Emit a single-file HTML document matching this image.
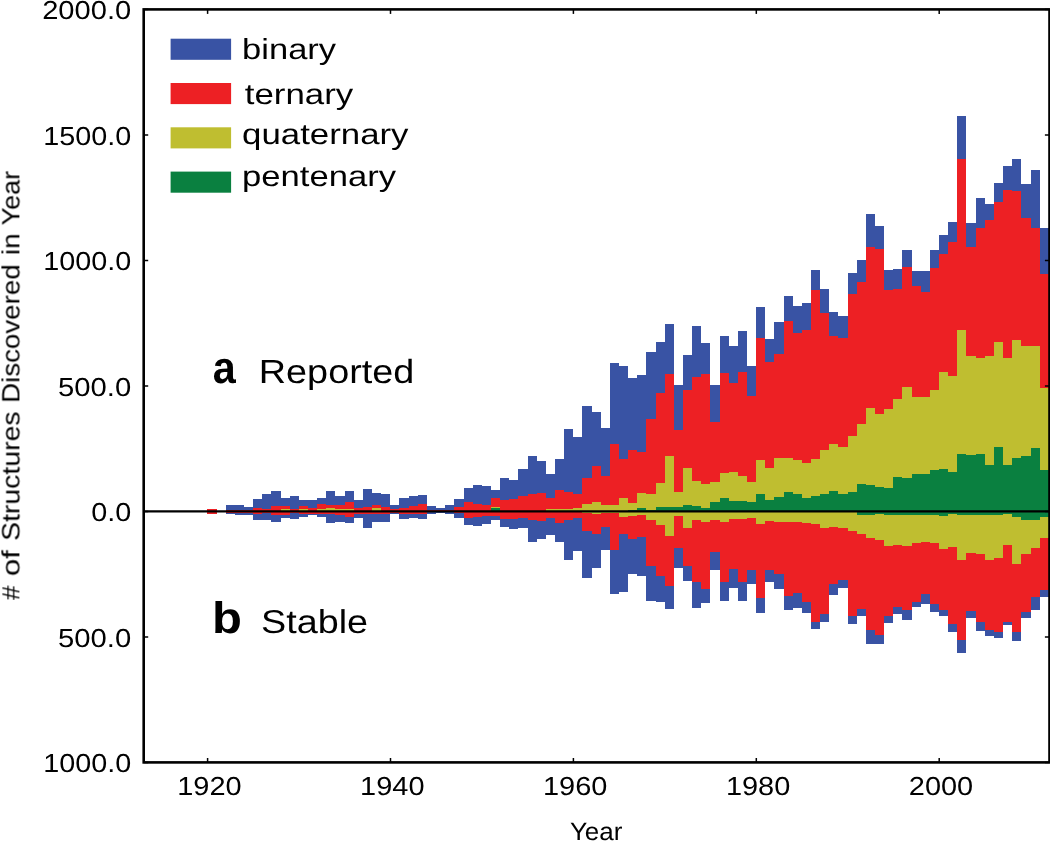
<!DOCTYPE html>
<html><head><meta charset="utf-8"><title>Structures discovered per year</title>
<style>
html,body{margin:0;padding:0;background:#fff;}
body{width:1050px;height:841px;overflow:hidden;}
svg{display:block;}
svg text{font-family:"Liberation Sans",sans-serif;fill:#000;text-rendering:geometricPrecision;}
.tx{opacity:0.999;}
</style></head><body>
<svg width="1050" height="841" viewBox="0 0 1050 841">
<rect x="0" y="0" width="1050" height="841" fill="#fff"/>
<g shape-rendering="crispEdges">
<path d="M207.4 509.3 L216.5 509.3 L216.5 511.4 L225.7 511.4 L225.7 505.4 L234.8 505.4 L234.8 505.4 L244.0 505.4 L244.0 506.8 L253.1 506.8 L253.1 498.8 L262.3 498.8 L262.3 493.9 L271.4 493.9 L271.4 491.1 L280.6 491.1 L280.6 497.7 L289.7 497.7 L289.7 496.0 L298.9 496.0 L298.9 500.0 L308.0 500.0 L308.0 500.2 L317.1 500.2 L317.1 498.4 L326.3 498.4 L326.3 491.4 L335.4 491.4 L335.4 496.0 L344.6 496.0 L344.6 491.4 L353.7 491.4 L353.7 500.0 L362.9 500.0 L362.9 489.4 L372.0 489.4 L372.0 492.8 L381.2 492.8 L381.2 493.7 L390.3 493.7 L390.3 505.4 L399.4 505.4 L399.4 498.2 L408.6 498.2 L408.6 496.0 L417.7 496.0 L417.7 495.0 L426.9 495.0 L426.9 506.4 L436.0 506.4 L436.0 508.0 L445.2 508.0 L445.2 505.0 L454.3 505.0 L454.3 499.4 L463.5 499.4 L463.5 488.0 L472.6 488.0 L472.6 484.6 L481.8 484.6 L481.8 486.0 L490.9 486.0 L490.9 490.0 L500.0 490.0 L500.0 478.4 L509.2 478.4 L509.2 480.0 L518.3 480.0 L518.3 469.4 L527.5 469.4 L527.5 456.0 L536.6 456.0 L536.6 461.0 L545.8 461.0 L545.8 474.4 L554.9 474.4 L554.9 459.2 L564.1 459.2 L564.1 428.8 L573.2 428.8 L573.2 437.0 L582.3 437.0 L582.3 405.8 L591.5 405.8 L591.5 412.2 L600.6 412.2 L600.6 428.4 L609.8 428.4 L609.8 363.0 L618.9 363.0 L618.9 365.6 L628.1 365.6 L628.1 377.6 L637.2 377.6 L637.2 375.0 L646.4 375.0 L646.4 352.0 L655.5 352.0 L655.5 342.4 L664.6 342.4 L664.6 323.6 L673.8 323.6 L673.8 385.0 L682.9 385.0 L682.9 355.0 L692.1 355.0 L692.1 326.0 L701.2 326.0 L701.2 343.0 L710.4 343.0 L710.4 385.0 L719.5 385.0 L719.5 336.0 L728.7 336.0 L728.7 345.8 L737.8 345.8 L737.8 330.8 L747.0 330.8 L747.0 366.0 L756.1 366.0 L756.1 307.4 L765.2 307.4 L765.2 339.0 L774.4 339.0 L774.4 322.0 L783.5 322.0 L783.5 296.4 L792.7 296.4 L792.7 306.4 L801.8 306.4 L801.8 303.4 L811.0 303.4 L811.0 270.0 L820.1 270.0 L820.1 289.0 L829.3 289.0 L829.3 312.4 L838.4 312.4 L838.4 316.4 L847.5 316.4 L847.5 272.8 L856.7 272.8 L856.7 260.2 L865.8 260.2 L865.8 214.0 L875.0 214.0 L875.0 226.0 L884.1 226.0 L884.1 270.2 L893.3 270.2 L893.3 269.2 L902.4 269.2 L902.4 250.0 L911.6 250.0 L911.6 270.6 L920.7 270.6 L920.7 270.6 L929.9 270.6 L929.9 250.0 L939.0 250.0 L939.0 235.2 L948.1 235.2 L948.1 222.0 L957.3 222.0 L957.3 116.4 L966.4 116.4 L966.4 223.4 L975.6 223.4 L975.6 198.0 L984.7 198.0 L984.7 204.0 L993.9 204.0 L993.9 183.0 L1003.0 183.0 L1003.0 165.6 L1012.2 165.6 L1012.2 158.6 L1021.3 158.6 L1021.3 184.4 L1030.5 184.4 L1030.5 169.6 L1039.6 169.6 L1039.6 227.8 L1048.7 227.8 L1048.7 597.0 L1039.6 597.0 L1039.6 610.0 L1030.5 610.0 L1030.5 617.6 L1021.3 617.6 L1021.3 641.0 L1012.2 641.0 L1012.2 625.0 L1003.0 625.0 L1003.0 638.4 L993.9 638.4 L993.9 636.0 L984.7 636.0 L984.7 631.4 L975.6 631.4 L975.6 618.0 L966.4 618.0 L966.4 653.0 L957.3 653.0 L957.3 631.6 L948.1 631.6 L948.1 616.2 L939.0 616.2 L939.0 612.0 L929.9 612.0 L929.9 604.0 L920.7 604.0 L920.7 607.0 L911.6 607.0 L911.6 619.6 L902.4 619.6 L902.4 614.2 L893.3 614.2 L893.3 623.0 L884.1 623.0 L884.1 644.4 L875.0 644.4 L875.0 644.4 L865.8 644.4 L865.8 616.2 L856.7 616.2 L856.7 624.0 L847.5 624.0 L847.5 587.6 L838.4 587.6 L838.4 595.0 L829.3 595.0 L829.3 622.0 L820.1 622.0 L820.1 629.0 L811.0 629.0 L811.0 613.0 L801.8 613.0 L801.8 608.0 L792.7 608.0 L792.7 610.4 L783.5 610.4 L783.5 589.0 L774.4 589.0 L774.4 581.6 L765.2 581.6 L765.2 613.0 L756.1 613.0 L756.1 583.6 L747.0 583.6 L747.0 600.6 L737.8 600.6 L737.8 588.4 L728.7 588.4 L728.7 601.4 L719.5 601.4 L719.5 570.0 L710.4 570.0 L710.4 603.0 L701.2 603.0 L701.2 607.6 L692.1 607.6 L692.1 581.4 L682.9 581.4 L682.9 568.0 L673.8 568.0 L673.8 608.6 L664.6 608.6 L664.6 602.0 L655.5 602.0 L655.5 601.0 L646.4 601.0 L646.4 576.4 L637.2 576.4 L637.2 574.4 L628.1 574.4 L628.1 592.0 L618.9 592.0 L618.9 594.4 L609.8 594.4 L609.8 550.0 L600.6 550.0 L600.6 568.0 L591.5 568.0 L591.5 578.4 L582.3 578.4 L582.3 551.0 L573.2 551.0 L573.2 560.0 L564.1 560.0 L564.1 542.0 L554.9 542.0 L554.9 534.7 L545.8 534.7 L545.8 539.4 L536.6 539.4 L536.6 542.0 L527.5 542.0 L527.5 528.0 L518.3 528.0 L518.3 529.0 L509.2 529.0 L509.2 527.0 L500.0 527.0 L500.0 519.8 L490.9 519.8 L490.9 524.4 L481.8 524.4 L481.8 526.0 L472.6 526.0 L472.6 525.0 L463.5 525.0 L463.5 518.0 L454.3 518.0 L454.3 514.0 L445.2 514.0 L445.2 513.0 L436.0 513.0 L436.0 514.0 L426.9 514.0 L426.9 519.4 L417.7 519.4 L417.7 518.4 L408.6 518.4 L408.6 518.6 L399.4 518.6 L399.4 514.3 L390.3 514.3 L390.3 522.4 L381.2 522.4 L381.2 522.4 L372.0 522.4 L372.0 528.0 L362.9 528.0 L362.9 517.6 L353.7 517.6 L353.7 522.8 L344.6 522.8 L344.6 522.4 L335.4 522.4 L335.4 523.2 L326.3 523.2 L326.3 516.5 L317.1 516.5 L317.1 514.8 L308.0 514.8 L308.0 516.5 L298.9 516.5 L298.9 518.8 L289.7 518.8 L289.7 518.3 L280.6 518.3 L280.6 522.0 L271.4 522.0 L271.4 519.7 L262.3 519.7 L262.3 519.7 L253.1 519.7 L253.1 515.4 L244.0 515.4 L244.0 514.6 L234.8 514.6 L234.8 514.3 L225.7 514.3 L225.7 511.4 L216.5 511.4 L216.5 513.7 L207.4 513.7Z" fill="#3953a4"/>
<path d="M207.4 509.3 L216.5 509.3 L216.5 511.4 L225.7 511.4 L225.7 509.6 L234.8 509.6 L234.8 510.0 L244.0 510.0 L244.0 510.1 L253.1 510.1 L253.1 507.7 L262.3 507.7 L262.3 509.1 L271.4 509.1 L271.4 506.0 L280.6 506.0 L280.6 506.0 L289.7 506.0 L289.7 508.5 L298.9 508.5 L298.9 506.0 L308.0 506.0 L308.0 508.0 L317.1 508.0 L317.1 504.0 L326.3 504.0 L326.3 504.5 L335.4 504.5 L335.4 504.5 L344.6 504.5 L344.6 501.6 L353.7 501.6 L353.7 508.0 L362.9 508.0 L362.9 506.5 L372.0 506.5 L372.0 504.5 L381.2 504.5 L381.2 507.2 L390.3 507.2 L390.3 509.4 L399.4 509.4 L399.4 508.0 L408.6 508.0 L408.6 506.4 L417.7 506.4 L417.7 504.4 L426.9 504.4 L426.9 509.9 L436.0 509.9 L436.0 510.4 L445.2 510.4 L445.2 509.9 L454.3 509.9 L454.3 507.0 L463.5 507.0 L463.5 502.4 L472.6 502.4 L472.6 504.0 L481.8 504.0 L481.8 505.0 L490.9 505.0 L490.9 498.4 L500.0 498.4 L500.0 500.0 L509.2 500.0 L509.2 499.0 L518.3 499.0 L518.3 496.0 L527.5 496.0 L527.5 494.0 L536.6 494.0 L536.6 493.4 L545.8 493.4 L545.8 498.4 L554.9 498.4 L554.9 490.4 L564.1 490.4 L564.1 492.0 L573.2 492.0 L573.2 494.0 L582.3 494.0 L582.3 478.4 L591.5 478.4 L591.5 466.0 L600.6 466.0 L600.6 475.6 L609.8 475.6 L609.8 443.6 L618.9 443.6 L618.9 459.0 L628.1 459.0 L628.1 450.0 L637.2 450.0 L637.2 451.6 L646.4 451.6 L646.4 418.6 L655.5 418.6 L655.5 393.0 L664.6 393.0 L664.6 374.0 L673.8 374.0 L673.8 429.6 L682.9 429.6 L682.9 389.6 L692.1 389.6 L692.1 377.0 L701.2 377.0 L701.2 374.4 L710.4 374.4 L710.4 422.0 L719.5 422.0 L719.5 373.0 L728.7 373.0 L728.7 383.0 L737.8 383.0 L737.8 372.0 L747.0 372.0 L747.0 396.0 L756.1 396.0 L756.1 337.6 L765.2 337.6 L765.2 361.6 L774.4 361.6 L774.4 354.0 L783.5 354.0 L783.5 321.0 L792.7 321.0 L792.7 333.0 L801.8 333.0 L801.8 330.0 L811.0 330.0 L811.0 290.4 L820.1 290.4 L820.1 313.0 L829.3 313.0 L829.3 336.0 L838.4 336.0 L838.4 338.2 L847.5 338.2 L847.5 294.2 L856.7 294.2 L856.7 282.0 L865.8 282.0 L865.8 247.0 L875.0 247.0 L875.0 249.0 L884.1 249.0 L884.1 290.0 L893.3 290.0 L893.3 289.2 L902.4 289.2 L902.4 267.4 L911.6 267.4 L911.6 286.0 L920.7 286.0 L920.7 292.0 L929.9 292.0 L929.9 268.2 L939.0 268.2 L939.0 254.4 L948.1 254.4 L948.1 242.0 L957.3 242.0 L957.3 159.4 L966.4 159.4 L966.4 247.0 L975.6 247.0 L975.6 228.0 L984.7 228.0 L984.7 219.6 L993.9 219.6 L993.9 202.0 L1003.0 202.0 L1003.0 190.4 L1012.2 190.4 L1012.2 191.0 L1021.3 191.0 L1021.3 218.4 L1030.5 218.4 L1030.5 227.8 L1039.6 227.8 L1039.6 274.0 L1048.7 274.0 L1048.7 590.0 L1039.6 590.0 L1039.6 597.4 L1030.5 597.4 L1030.5 611.6 L1021.3 611.6 L1021.3 631.6 L1012.2 631.6 L1012.2 622.0 L1003.0 622.0 L1003.0 632.4 L993.9 632.4 L993.9 630.0 L984.7 630.0 L984.7 622.0 L975.6 622.0 L975.6 611.0 L966.4 611.0 L966.4 639.6 L957.3 639.6 L957.3 624.0 L948.1 624.0 L948.1 609.6 L939.0 609.6 L939.0 604.4 L929.9 604.4 L929.9 594.0 L920.7 594.0 L920.7 602.0 L911.6 602.0 L911.6 610.0 L902.4 610.0 L902.4 607.4 L893.3 607.4 L893.3 616.0 L884.1 616.0 L884.1 634.7 L875.0 634.7 L875.0 630.4 L865.8 630.4 L865.8 609.0 L856.7 609.0 L856.7 615.6 L847.5 615.6 L847.5 580.4 L838.4 580.4 L838.4 584.0 L829.3 584.0 L829.3 613.6 L820.1 613.6 L820.1 621.6 L811.0 621.6 L811.0 602.0 L801.8 602.0 L801.8 593.0 L792.7 593.0 L792.7 596.4 L783.5 596.4 L783.5 574.4 L774.4 574.4 L774.4 570.4 L765.2 570.4 L765.2 597.6 L756.1 597.6 L756.1 569.6 L747.0 569.6 L747.0 581.6 L737.8 581.6 L737.8 569.0 L728.7 569.0 L728.7 582.0 L719.5 582.0 L719.5 552.4 L710.4 552.4 L710.4 589.4 L701.2 589.4 L701.2 582.0 L692.1 582.0 L692.1 566.0 L682.9 566.0 L682.9 548.4 L673.8 548.4 L673.8 586.0 L664.6 586.0 L664.6 576.0 L655.5 576.0 L655.5 566.0 L646.4 566.0 L646.4 537.4 L637.2 537.4 L637.2 539.0 L628.1 539.0 L628.1 534.0 L618.9 534.0 L618.9 549.6 L609.8 549.6 L609.8 527.0 L600.6 527.0 L600.6 534.4 L591.5 534.4 L591.5 531.0 L582.3 531.0 L582.3 518.4 L573.2 518.4 L573.2 520.0 L564.1 520.0 L564.1 523.4 L554.9 523.4 L554.9 518.0 L545.8 518.0 L545.8 521.0 L536.6 521.0 L536.6 520.0 L527.5 520.0 L527.5 518.0 L518.3 518.0 L518.3 519.0 L509.2 519.0 L509.2 519.0 L500.0 519.0 L500.0 515.6 L490.9 515.6 L490.9 516.0 L481.8 516.0 L481.8 517.0 L472.6 517.0 L472.6 518.0 L463.5 518.0 L463.5 513.4 L454.3 513.4 L454.3 512.4 L445.2 512.4 L445.2 511.9 L436.0 511.9 L436.0 512.4 L426.9 512.4 L426.9 514.4 L417.7 514.4 L417.7 513.9 L408.6 513.9 L408.6 513.5 L399.4 513.5 L399.4 512.9 L390.3 512.9 L390.3 513.7 L381.2 513.7 L381.2 514.2 L372.0 514.2 L372.0 513.8 L362.9 513.8 L362.9 513.5 L353.7 513.5 L353.7 517.1 L344.6 517.1 L344.6 514.8 L335.4 514.8 L335.4 514.3 L326.3 514.3 L326.3 514.3 L317.1 514.3 L317.1 513.6 L308.0 513.6 L308.0 514.1 L298.9 514.1 L298.9 513.2 L289.7 513.2 L289.7 514.8 L280.6 514.8 L280.6 515.4 L271.4 515.4 L271.4 513.2 L262.3 513.2 L262.3 513.7 L253.1 513.7 L253.1 512.7 L244.0 512.7 L244.0 512.7 L234.8 512.7 L234.8 513.1 L225.7 513.1 L225.7 511.4 L216.5 511.4 L216.5 513.7 L207.4 513.7Z" fill="#ed2024"/>
<path d="M207.4 511.4 L216.5 511.4 L216.5 511.4 L225.7 511.4 L225.7 511.4 L234.8 511.4 L234.8 511.4 L244.0 511.4 L244.0 511.4 L253.1 511.4 L253.1 511.4 L262.3 511.4 L262.3 511.4 L271.4 511.4 L271.4 511.4 L280.6 511.4 L280.6 509.0 L289.7 509.0 L289.7 511.4 L298.9 511.4 L298.9 508.6 L308.0 508.6 L308.0 511.4 L317.1 511.4 L317.1 509.1 L326.3 509.1 L326.3 508.0 L335.4 508.0 L335.4 509.4 L344.6 509.4 L344.6 509.1 L353.7 509.1 L353.7 511.4 L362.9 511.4 L362.9 511.4 L372.0 511.4 L372.0 508.0 L381.2 508.0 L381.2 511.4 L390.3 511.4 L390.3 511.4 L399.4 511.4 L399.4 511.4 L408.6 511.4 L408.6 511.4 L417.7 511.4 L417.7 511.4 L426.9 511.4 L426.9 511.4 L436.0 511.4 L436.0 511.4 L445.2 511.4 L445.2 511.4 L454.3 511.4 L454.3 511.4 L463.5 511.4 L463.5 511.4 L472.6 511.4 L472.6 511.4 L481.8 511.4 L481.8 511.4 L490.9 511.4 L490.9 506.8 L500.0 506.8 L500.0 511.4 L509.2 511.4 L509.2 511.4 L518.3 511.4 L518.3 511.4 L527.5 511.4 L527.5 511.4 L536.6 511.4 L536.6 511.4 L545.8 511.4 L545.8 509.4 L554.9 509.4 L554.9 509.4 L564.1 509.4 L564.1 509.4 L573.2 509.4 L573.2 508.0 L582.3 508.0 L582.3 504.4 L591.5 504.4 L591.5 501.6 L600.6 501.6 L600.6 505.0 L609.8 505.0 L609.8 505.0 L618.9 505.0 L618.9 498.4 L628.1 498.4 L628.1 503.0 L637.2 503.0 L637.2 493.0 L646.4 493.0 L646.4 494.4 L655.5 494.4 L655.5 483.0 L664.6 483.0 L664.6 455.6 L673.8 455.6 L673.8 492.4 L682.9 492.4 L682.9 467.6 L692.1 467.6 L692.1 481.0 L701.2 481.0 L701.2 483.6 L710.4 483.6 L710.4 482.4 L719.5 482.4 L719.5 473.0 L728.7 473.0 L728.7 472.0 L737.8 472.0 L737.8 476.0 L747.0 476.0 L747.0 482.0 L756.1 482.0 L756.1 459.6 L765.2 459.6 L765.2 468.0 L774.4 468.0 L774.4 458.0 L783.5 458.0 L783.5 457.6 L792.7 457.6 L792.7 459.6 L801.8 459.6 L801.8 463.0 L811.0 463.0 L811.0 459.0 L820.1 459.0 L820.1 450.0 L829.3 450.0 L829.3 444.4 L838.4 444.4 L838.4 447.0 L847.5 447.0 L847.5 436.0 L856.7 436.0 L856.7 424.4 L865.8 424.4 L865.8 408.0 L875.0 408.0 L875.0 414.0 L884.1 414.0 L884.1 409.4 L893.3 409.4 L893.3 399.4 L902.4 399.4 L902.4 387.4 L911.6 387.4 L911.6 397.0 L920.7 397.0 L920.7 397.0 L929.9 397.0 L929.9 390.0 L939.0 390.0 L939.0 372.2 L948.1 372.2 L948.1 376.0 L957.3 376.0 L957.3 330.4 L966.4 330.4 L966.4 356.4 L975.6 356.4 L975.6 358.4 L984.7 358.4 L984.7 355.6 L993.9 355.6 L993.9 341.6 L1003.0 341.6 L1003.0 358.0 L1012.2 358.0 L1012.2 339.6 L1021.3 339.6 L1021.3 345.6 L1030.5 345.6 L1030.5 345.6 L1039.6 345.6 L1039.6 388.0 L1048.7 388.0 L1048.7 538.0 L1039.6 538.0 L1039.6 548.4 L1030.5 548.4 L1030.5 554.0 L1021.3 554.0 L1021.3 564.0 L1012.2 564.0 L1012.2 545.0 L1003.0 545.0 L1003.0 558.0 L993.9 558.0 L993.9 560.0 L984.7 560.0 L984.7 553.6 L975.6 553.6 L975.6 553.0 L966.4 553.0 L966.4 560.0 L957.3 560.0 L957.3 547.0 L948.1 547.0 L948.1 549.0 L939.0 549.0 L939.0 543.4 L929.9 543.4 L929.9 541.9 L920.7 541.9 L920.7 542.6 L911.6 542.6 L911.6 545.6 L902.4 545.6 L902.4 545.0 L893.3 545.0 L893.3 546.0 L884.1 546.0 L884.1 540.0 L875.0 540.0 L875.0 538.0 L865.8 538.0 L865.8 533.6 L856.7 533.6 L856.7 531.0 L847.5 531.0 L847.5 527.8 L838.4 527.8 L838.4 527.0 L829.3 527.0 L829.3 528.0 L820.1 528.0 L820.1 523.6 L811.0 523.6 L811.0 523.0 L801.8 523.0 L801.8 522.4 L792.7 522.4 L792.7 522.0 L783.5 522.0 L783.5 521.6 L774.4 521.6 L774.4 521.0 L765.2 521.0 L765.2 524.0 L756.1 524.0 L756.1 518.4 L747.0 518.4 L747.0 519.0 L737.8 519.0 L737.8 519.0 L728.7 519.0 L728.7 522.0 L719.5 522.0 L719.5 520.0 L710.4 520.0 L710.4 522.0 L701.2 522.0 L701.2 520.0 L692.1 520.0 L692.1 528.0 L682.9 528.0 L682.9 516.0 L673.8 516.0 L673.8 536.0 L664.6 536.0 L664.6 525.0 L655.5 525.0 L655.5 520.0 L646.4 520.0 L646.4 515.0 L637.2 515.0 L637.2 516.0 L628.1 516.0 L628.1 517.0 L618.9 517.0 L618.9 513.4 L609.8 513.4 L609.8 512.9 L600.6 512.9 L600.6 513.9 L591.5 513.9 L591.5 513.4 L582.3 513.4 L582.3 511.4 L573.2 511.4 L573.2 511.4 L564.1 511.4 L564.1 511.4 L554.9 511.4 L554.9 511.4 L545.8 511.4 L545.8 511.4 L536.6 511.4 L536.6 511.4 L527.5 511.4 L527.5 511.4 L518.3 511.4 L518.3 511.4 L509.2 511.4 L509.2 511.4 L500.0 511.4 L500.0 511.4 L490.9 511.4 L490.9 511.4 L481.8 511.4 L481.8 511.4 L472.6 511.4 L472.6 511.4 L463.5 511.4 L463.5 511.4 L454.3 511.4 L454.3 511.4 L445.2 511.4 L445.2 511.4 L436.0 511.4 L436.0 511.4 L426.9 511.4 L426.9 511.4 L417.7 511.4 L417.7 511.4 L408.6 511.4 L408.6 511.4 L399.4 511.4 L399.4 511.4 L390.3 511.4 L390.3 511.4 L381.2 511.4 L381.2 511.4 L372.0 511.4 L372.0 511.4 L362.9 511.4 L362.9 511.4 L353.7 511.4 L353.7 511.4 L344.6 511.4 L344.6 511.4 L335.4 511.4 L335.4 511.4 L326.3 511.4 L326.3 511.4 L317.1 511.4 L317.1 511.4 L308.0 511.4 L308.0 511.4 L298.9 511.4 L298.9 511.4 L289.7 511.4 L289.7 511.4 L280.6 511.4 L280.6 511.4 L271.4 511.4 L271.4 511.4 L262.3 511.4 L262.3 511.4 L253.1 511.4 L253.1 511.4 L244.0 511.4 L244.0 511.4 L234.8 511.4 L234.8 511.4 L225.7 511.4 L225.7 511.4 L216.5 511.4 L216.5 511.4 L207.4 511.4Z" fill="#bfbe30"/>
<path d="M207.4 511.4 L216.5 511.4 L216.5 511.4 L225.7 511.4 L225.7 511.4 L234.8 511.4 L234.8 511.4 L244.0 511.4 L244.0 511.4 L253.1 511.4 L253.1 511.4 L262.3 511.4 L262.3 511.4 L271.4 511.4 L271.4 511.4 L280.6 511.4 L280.6 511.4 L289.7 511.4 L289.7 511.4 L298.9 511.4 L298.9 511.4 L308.0 511.4 L308.0 511.4 L317.1 511.4 L317.1 511.4 L326.3 511.4 L326.3 511.4 L335.4 511.4 L335.4 511.4 L344.6 511.4 L344.6 511.4 L353.7 511.4 L353.7 511.4 L362.9 511.4 L362.9 511.4 L372.0 511.4 L372.0 511.4 L381.2 511.4 L381.2 511.4 L390.3 511.4 L390.3 511.4 L399.4 511.4 L399.4 511.4 L408.6 511.4 L408.6 511.4 L417.7 511.4 L417.7 511.4 L426.9 511.4 L426.9 511.4 L436.0 511.4 L436.0 511.4 L445.2 511.4 L445.2 511.4 L454.3 511.4 L454.3 511.4 L463.5 511.4 L463.5 511.4 L472.6 511.4 L472.6 511.4 L481.8 511.4 L481.8 511.4 L490.9 511.4 L490.9 507.6 L500.0 507.6 L500.0 511.4 L509.2 511.4 L509.2 511.4 L518.3 511.4 L518.3 511.4 L527.5 511.4 L527.5 511.4 L536.6 511.4 L536.6 511.4 L545.8 511.4 L545.8 511.4 L554.9 511.4 L554.9 511.4 L564.1 511.4 L564.1 511.4 L573.2 511.4 L573.2 511.4 L582.3 511.4 L582.3 511.4 L591.5 511.4 L591.5 511.4 L600.6 511.4 L600.6 511.4 L609.8 511.4 L609.8 511.4 L618.9 511.4 L618.9 511.4 L628.1 511.4 L628.1 509.9 L637.2 509.9 L637.2 508.4 L646.4 508.4 L646.4 509.6 L655.5 509.6 L655.5 507.4 L664.6 507.4 L664.6 507.0 L673.8 507.0 L673.8 507.0 L682.9 507.0 L682.9 505.4 L692.1 505.4 L692.1 506.0 L701.2 506.0 L701.2 508.0 L710.4 508.0 L710.4 502.4 L719.5 502.4 L719.5 498.0 L728.7 498.0 L728.7 501.0 L737.8 501.0 L737.8 501.4 L747.0 501.4 L747.0 502.0 L756.1 502.0 L756.1 494.4 L765.2 494.4 L765.2 500.0 L774.4 500.0 L774.4 497.0 L783.5 497.0 L783.5 492.4 L792.7 492.4 L792.7 493.6 L801.8 493.6 L801.8 497.6 L811.0 497.6 L811.0 496.4 L820.1 496.4 L820.1 494.0 L829.3 494.0 L829.3 490.6 L838.4 490.6 L838.4 494.4 L847.5 494.4 L847.5 492.2 L856.7 492.2 L856.7 483.6 L865.8 483.6 L865.8 485.4 L875.0 485.4 L875.0 486.8 L884.1 486.8 L884.1 487.8 L893.3 487.8 L893.3 476.8 L902.4 476.8 L902.4 477.8 L911.6 477.8 L911.6 474.4 L920.7 474.4 L920.7 473.8 L929.9 473.8 L929.9 470.0 L939.0 470.0 L939.0 469.4 L948.1 469.4 L948.1 472.4 L957.3 472.4 L957.3 453.6 L966.4 453.6 L966.4 455.0 L975.6 455.0 L975.6 453.6 L984.7 453.6 L984.7 465.0 L993.9 465.0 L993.9 446.6 L1003.0 446.6 L1003.0 465.0 L1012.2 465.0 L1012.2 457.6 L1021.3 457.6 L1021.3 456.4 L1030.5 456.4 L1030.5 448.0 L1039.6 448.0 L1039.6 470.0 L1048.7 470.0 L1048.7 517.0 L1039.6 517.0 L1039.6 520.4 L1030.5 520.4 L1030.5 519.6 L1021.3 519.6 L1021.3 517.0 L1012.2 517.0 L1012.2 514.4 L1003.0 514.4 L1003.0 515.0 L993.9 515.0 L993.9 515.4 L984.7 515.4 L984.7 515.4 L975.6 515.4 L975.6 515.4 L966.4 515.4 L966.4 515.4 L957.3 515.4 L957.3 514.0 L948.1 514.0 L948.1 516.0 L939.0 516.0 L939.0 515.0 L929.9 515.0 L929.9 515.0 L920.7 515.0 L920.7 515.0 L911.6 515.0 L911.6 515.0 L902.4 515.0 L902.4 515.4 L893.3 515.4 L893.3 515.4 L884.1 515.4 L884.1 514.0 L875.0 514.0 L875.0 515.4 L865.8 515.4 L865.8 515.4 L856.7 515.4 L856.7 511.4 L847.5 511.4 L847.5 511.4 L838.4 511.4 L838.4 511.4 L829.3 511.4 L829.3 511.4 L820.1 511.4 L820.1 511.4 L811.0 511.4 L811.0 511.4 L801.8 511.4 L801.8 511.4 L792.7 511.4 L792.7 511.4 L783.5 511.4 L783.5 511.4 L774.4 511.4 L774.4 511.4 L765.2 511.4 L765.2 511.4 L756.1 511.4 L756.1 511.4 L747.0 511.4 L747.0 511.4 L737.8 511.4 L737.8 511.4 L728.7 511.4 L728.7 511.4 L719.5 511.4 L719.5 511.4 L710.4 511.4 L710.4 511.4 L701.2 511.4 L701.2 511.4 L692.1 511.4 L692.1 511.4 L682.9 511.4 L682.9 511.4 L673.8 511.4 L673.8 511.4 L664.6 511.4 L664.6 511.4 L655.5 511.4 L655.5 511.4 L646.4 511.4 L646.4 511.4 L637.2 511.4 L637.2 511.4 L628.1 511.4 L628.1 511.4 L618.9 511.4 L618.9 511.4 L609.8 511.4 L609.8 511.4 L600.6 511.4 L600.6 511.4 L591.5 511.4 L591.5 511.4 L582.3 511.4 L582.3 511.4 L573.2 511.4 L573.2 511.4 L564.1 511.4 L564.1 511.4 L554.9 511.4 L554.9 511.4 L545.8 511.4 L545.8 511.4 L536.6 511.4 L536.6 511.4 L527.5 511.4 L527.5 511.4 L518.3 511.4 L518.3 511.4 L509.2 511.4 L509.2 511.4 L500.0 511.4 L500.0 511.4 L490.9 511.4 L490.9 511.4 L481.8 511.4 L481.8 511.4 L472.6 511.4 L472.6 511.4 L463.5 511.4 L463.5 511.4 L454.3 511.4 L454.3 511.4 L445.2 511.4 L445.2 511.4 L436.0 511.4 L436.0 511.4 L426.9 511.4 L426.9 511.4 L417.7 511.4 L417.7 511.4 L408.6 511.4 L408.6 511.4 L399.4 511.4 L399.4 511.4 L390.3 511.4 L390.3 511.4 L381.2 511.4 L381.2 511.4 L372.0 511.4 L372.0 511.4 L362.9 511.4 L362.9 511.4 L353.7 511.4 L353.7 511.4 L344.6 511.4 L344.6 511.4 L335.4 511.4 L335.4 511.4 L326.3 511.4 L326.3 511.4 L317.1 511.4 L317.1 511.4 L308.0 511.4 L308.0 511.4 L298.9 511.4 L298.9 511.4 L289.7 511.4 L289.7 511.4 L280.6 511.4 L280.6 511.4 L271.4 511.4 L271.4 511.4 L262.3 511.4 L262.3 511.4 L253.1 511.4 L253.1 511.4 L244.0 511.4 L244.0 511.4 L234.8 511.4 L234.8 511.4 L225.7 511.4 L225.7 511.4 L216.5 511.4 L216.5 511.4 L207.4 511.4Z" fill="#0a8040"/>
</g>
<g>
<line x1="143.7" y1="511.4" x2="1049.4" y2="511.4" stroke="#000" stroke-width="2.3"/>
<rect x="143.7" y="9.4" width="905.8" height="753.0" fill="none" stroke="#000" stroke-width="2.6"/>
<line x1="143.7" y1="9.4" x2="148.2" y2="9.4" stroke="#000" stroke-width="1.5"/>
<line x1="1049.4" y1="9.4" x2="1044.9" y2="9.4" stroke="#000" stroke-width="1.5"/>
<line x1="143.7" y1="135.0" x2="148.2" y2="135.0" stroke="#000" stroke-width="1.5"/>
<line x1="1049.4" y1="135.0" x2="1044.9" y2="135.0" stroke="#000" stroke-width="1.5"/>
<line x1="143.7" y1="260.5" x2="148.2" y2="260.5" stroke="#000" stroke-width="1.5"/>
<line x1="1049.4" y1="260.5" x2="1044.9" y2="260.5" stroke="#000" stroke-width="1.5"/>
<line x1="143.7" y1="386.0" x2="148.2" y2="386.0" stroke="#000" stroke-width="1.5"/>
<line x1="1049.4" y1="386.0" x2="1044.9" y2="386.0" stroke="#000" stroke-width="1.5"/>
<line x1="143.7" y1="511.5" x2="148.2" y2="511.5" stroke="#000" stroke-width="1.5"/>
<line x1="1049.4" y1="511.5" x2="1044.9" y2="511.5" stroke="#000" stroke-width="1.5"/>
<line x1="143.7" y1="637.0" x2="148.2" y2="637.0" stroke="#000" stroke-width="1.5"/>
<line x1="1049.4" y1="637.0" x2="1044.9" y2="637.0" stroke="#000" stroke-width="1.5"/>
<line x1="143.7" y1="762.5" x2="148.2" y2="762.5" stroke="#000" stroke-width="1.5"/>
<line x1="1049.4" y1="762.5" x2="1044.9" y2="762.5" stroke="#000" stroke-width="1.5"/>
<line x1="207.6" y1="9.4" x2="207.6" y2="13.9" stroke="#000" stroke-width="1.5"/>
<line x1="207.6" y1="762.5" x2="207.6" y2="758.0" stroke="#000" stroke-width="1.5"/>
<line x1="390.5" y1="9.4" x2="390.5" y2="13.9" stroke="#000" stroke-width="1.5"/>
<line x1="390.5" y1="762.5" x2="390.5" y2="758.0" stroke="#000" stroke-width="1.5"/>
<line x1="573.4" y1="9.4" x2="573.4" y2="13.9" stroke="#000" stroke-width="1.5"/>
<line x1="573.4" y1="762.5" x2="573.4" y2="758.0" stroke="#000" stroke-width="1.5"/>
<line x1="756.3" y1="9.4" x2="756.3" y2="13.9" stroke="#000" stroke-width="1.5"/>
<line x1="756.3" y1="762.5" x2="756.3" y2="758.0" stroke="#000" stroke-width="1.5"/>
<line x1="939.2" y1="9.4" x2="939.2" y2="13.9" stroke="#000" stroke-width="1.5"/>
<line x1="939.2" y1="762.5" x2="939.2" y2="758.0" stroke="#000" stroke-width="1.5"/>
</g>
<g class="tx">
<text x="42.2" y="18.9" font-size="26" text-anchor="start" font-weight="normal" textLength="89.0" lengthAdjust="spacingAndGlyphs">2000.0</text>
<text x="43.2" y="144.5" font-size="26" text-anchor="start" font-weight="normal" textLength="88.0" lengthAdjust="spacingAndGlyphs">1500.0</text>
<text x="43.2" y="270.0" font-size="26" text-anchor="start" font-weight="normal" textLength="88.0" lengthAdjust="spacingAndGlyphs">1000.0</text>
<text x="58.0" y="395.5" font-size="26" text-anchor="start" font-weight="normal" textLength="73.2" lengthAdjust="spacingAndGlyphs">500.0</text>
<text x="91.2" y="521.0" font-size="26" text-anchor="start" font-weight="normal" textLength="40.0" lengthAdjust="spacingAndGlyphs">0.0</text>
<text x="58.0" y="646.5" font-size="26" text-anchor="start" font-weight="normal" textLength="73.2" lengthAdjust="spacingAndGlyphs">500.0</text>
<text x="43.2" y="772.0" font-size="26" text-anchor="start" font-weight="normal" textLength="88.0" lengthAdjust="spacingAndGlyphs">1000.0</text>
<text x="177.2" y="795.3" font-size="26" text-anchor="start" font-weight="normal" textLength="64.4" lengthAdjust="spacingAndGlyphs">1920</text>
<text x="360.1" y="795.3" font-size="26" text-anchor="start" font-weight="normal" textLength="64.4" lengthAdjust="spacingAndGlyphs">1940</text>
<text x="543.0" y="795.3" font-size="26" text-anchor="start" font-weight="normal" textLength="64.4" lengthAdjust="spacingAndGlyphs">1960</text>
<text x="725.9" y="795.3" font-size="26" text-anchor="start" font-weight="normal" textLength="64.4" lengthAdjust="spacingAndGlyphs">1980</text>
<text x="908.8" y="795.3" font-size="26" text-anchor="start" font-weight="normal" textLength="64.4" lengthAdjust="spacingAndGlyphs">2000</text>
<text x="569.9" y="840.0" font-size="25" text-anchor="start" font-weight="normal" textLength="52.6" lengthAdjust="spacingAndGlyphs">Year</text>
<g transform="translate(19.4,600.4) rotate(-90)"><text x="0.20" y="0" font-size="25" textLength="14.60" lengthAdjust="spacingAndGlyphs">#</text><text x="24.15" y="0" font-size="25" textLength="26.07" lengthAdjust="spacingAndGlyphs">of</text><text x="59.43" y="0" font-size="25" textLength="129.54" lengthAdjust="spacingAndGlyphs">Structures</text><text x="197.48" y="0" font-size="25" textLength="138.59" lengthAdjust="spacingAndGlyphs">Discovered</text><text x="345.26" y="0" font-size="25" textLength="21.78" lengthAdjust="spacingAndGlyphs">in</text><text x="375.02" y="0" font-size="25" textLength="54.54" lengthAdjust="spacingAndGlyphs">Year</text></g>
<rect x="170.6" y="38.7" width="60.5" height="21.1" fill="#3953a4"/>
<rect x="170.6" y="83.0" width="60.5" height="21.1" fill="#ed2024"/>
<rect x="170.6" y="127.3" width="60.5" height="21.1" fill="#bfbe30"/>
<rect x="170.6" y="171.6" width="60.5" height="21.1" fill="#0a8040"/>
<text x="242.1" y="58.9" font-size="29" text-anchor="start" font-weight="normal" textLength="94.0" lengthAdjust="spacingAndGlyphs">binary</text>
<text x="244.8" y="103.6" font-size="29" text-anchor="start" font-weight="normal" textLength="108.4" lengthAdjust="spacingAndGlyphs">ternary</text>
<text x="242.1" y="143.9" font-size="29" text-anchor="start" font-weight="normal" textLength="166.4" lengthAdjust="spacingAndGlyphs">quaternary</text>
<text x="242.1" y="186.1" font-size="29" text-anchor="start" font-weight="normal" textLength="154.0" lengthAdjust="spacingAndGlyphs">pentenary</text>
<text x="212.7" y="382.7" font-size="45" text-anchor="start" font-weight="bold" textLength="23.0" lengthAdjust="spacingAndGlyphs">a</text>
<text x="258.8" y="382.7" font-size="33.5" text-anchor="start" font-weight="normal" textLength="155.5" lengthAdjust="spacingAndGlyphs">Reported</text>
<text x="212.0" y="633.2" font-size="44" text-anchor="start" font-weight="bold" textLength="29.9" lengthAdjust="spacingAndGlyphs">b</text>
<text x="261.1" y="633.2" font-size="33" text-anchor="start" font-weight="normal" textLength="107.0" lengthAdjust="spacingAndGlyphs">Stable</text>
</g>
</svg>
</body></html>
